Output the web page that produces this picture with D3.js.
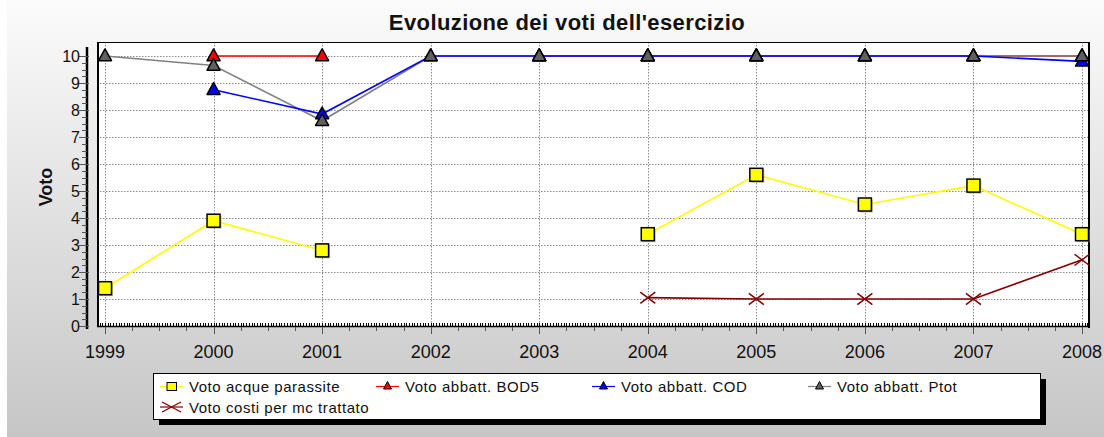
<!DOCTYPE html>
<html>
<head>
<meta charset="utf-8">
<script src="https://cdn.jsdelivr.net/npm/d3@7"></script>
<style>
  html, body { margin: 0; padding: 0; background: #ffffff; }
  svg { display: block; font-family: "Liberation Sans", Arial, sans-serif; }
</style>
</head>
<body>
<svg id="chart" width="1104" height="437"></svg>
<script>
// Years on the horizontal axis
const years = [1999, 2000, 2001, 2002, 2003, 2004, 2005, 2006, 2007, 2008];

// Scores per year (null = no value for that year)
const acqueParassite = [1.4, 3.9, 2.8, null, null, 3.4, 5.6, 4.5, 5.2, 3.4];
const abbattBOD5     = [null, 10, 10, null, 10, 10, 10, 10, 10, 10];
const abbattCOD      = [null, 8.75, 7.85, 10, 10, 10, 10, 10, 10, 9.8];
const abbattPtot     = [10, 9.65, 7.6, 10, 10, 10, 10, 10, 10, 10];
const costiMc        = [null, null, null, null, null, 1.05, 1.0, 1.0, 1.0, 2.45];

const yTicks = [0, 1, 2, 3, 4, 5, 6, 7, 8, 9, 10];

const titleText = "Evoluzione dei voti dell'esercizio";
const yLabel = "Voto";

const series = [
  { name: "Voto acque parassite",      values: acqueParassite, color: "#ffff00", marker: "square",   fill: "#ffff00" },
  { name: "Voto abbatt. BOD5",         values: abbattBOD5,     color: "#ff0000", marker: "triangle", fill: "#ff0000" },
  { name: "Voto abbatt. COD",          values: abbattCOD,      color: "#0000ff", marker: "triangle", fill: "#0000ff" },
  { name: "Voto abbatt. Ptot",         values: abbattPtot,     color: "#808080", marker: "triangle", fill: "#606060" },
  { name: "Voto costi per mc trattato", values: costiMc,       color: "#800000", marker: "cross",    fill: "none" }
];

const svg = d3.select("#chart");
const W = 1104, H = 437;

// Background panel with vertical gradient
const defs = svg.append("defs");
const grad = defs.append("linearGradient").attr("id", "bg").attr("x1", 0).attr("y1", 0).attr("x2", 0).attr("y2", 1);
grad.append("stop").attr("offset", "0%").attr("stop-color", "#fbfbfb");
grad.append("stop").attr("offset", "100%").attr("stop-color", "#c6c6c6");
svg.append("rect").attr("x", 7).attr("y", 0).attr("width", W - 7).attr("height", H).attr("fill", "url(#bg)");

// Plot frame
const plot = { left: 97, right: 1089, top: 42, bottom: 327 };

const x = d3.scaleLinear().domain([1999, 2008]).range([105, 1082]);
const y = d3.scaleLinear().domain([0, 10]).range([326, 56]);

svg.append("rect")
  .attr("x", plot.left).attr("y", plot.top)
  .attr("width", plot.right - plot.left).attr("height", plot.bottom - plot.top)
  .attr("fill", "#ffffff");

// Dotted grid
const grid = svg.append("g").attr("stroke", "#8a8a8a").attr("stroke-width", 1).attr("stroke-dasharray", "1.5,1.5");
grid.selectAll("line.h").data(yTicks.filter(d => d > 0)).join("line")
  .attr("x1", plot.left).attr("x2", plot.right)
  .attr("y1", d => Math.round(y(d)) + 0.5).attr("y2", d => Math.round(y(d)) + 0.5);
grid.selectAll("line.v").data(years).join("line")
  .attr("y1", plot.top).attr("y2", plot.bottom)
  .attr("x1", d => Math.round(x(d)) + 0.5).attr("x2", d => Math.round(x(d)) + 0.5);

// Frame borders
svg.append("line").attr("x1", plot.left).attr("x2", plot.right).attr("y1", plot.top + 0.5).attr("y2", plot.top + 0.5).attr("stroke", "#000").attr("stroke-width", 1);
svg.append("line").attr("x1", plot.left + 1).attr("x2", plot.left + 1).attr("y1", plot.top).attr("y2", plot.bottom).attr("stroke", "#000").attr("stroke-width", 2);
svg.append("line").attr("x1", plot.right).attr("x2", plot.right).attr("y1", plot.top).attr("y2", plot.bottom + 1).attr("stroke", "#000").attr("stroke-width", 2);

// Bottom axis: dense minor ticks, quarter ticks and year ticks
const xAxisY = 327;
const xLo = x.invert(plot.left), xHi = x.invert(plot.right);
const minorX = d3.range(Math.ceil(xLo * 40), Math.floor(xHi * 40) + 1).map(k => k / 40);
const quarterX = d3.range(Math.ceil(xLo * 4), Math.floor(xHi * 4) + 1).map(k => k / 4).filter(v => v % 1 !== 0);
const xa = svg.append("g").attr("stroke", "#000");
xa.selectAll("line.minor").data(minorX).join("line")
  .attr("x1", d => Math.round(x(d)) + 0.5).attr("x2", d => Math.round(x(d)) + 0.5)
  .attr("y1", xAxisY - 4).attr("y2", xAxisY).attr("stroke-width", 1);
xa.append("line").attr("x1", plot.left).attr("x2", plot.right + 1).attr("y1", xAxisY - 0.5).attr("y2", xAxisY - 0.5).attr("stroke-width", 1.5);
xa.selectAll("line.q").data(quarterX).join("line")
  .attr("x1", d => Math.round(x(d)) + 0.5).attr("x2", d => Math.round(x(d)) + 0.5)
  .attr("y1", xAxisY).attr("y2", xAxisY + 4).attr("stroke", "#555").attr("stroke-width", 1);
xa.selectAll("line.major").data(years).join("line")
  .attr("x1", d => Math.round(x(d)) + 0.5).attr("x2", d => Math.round(x(d)) + 0.5)
  .attr("y1", xAxisY).attr("y2", xAxisY + 7).attr("stroke", "#555").attr("stroke-width", 1);

svg.append("g").selectAll("text").data(years).join("text")
  .attr("x", d => x(d)).attr("y", 358)
  .attr("text-anchor", "middle")
  .attr("font-size", "18px").attr("fill", "#111")
  .text(d => d);

// Left axis, detached from the frame
const yAxisX = 87;
const ya = svg.append("g");
ya.append("line").attr("x1", yAxisX).attr("x2", yAxisX).attr("y1", 47).attr("y2", 329).attr("stroke", "#000").attr("stroke-width", 2.5);
const quarterY = d3.range(0, 40).map(k => k / 4).filter(v => v % 1 !== 0);
ya.selectAll("line.q").data(quarterY).join("line")
  .attr("x1", yAxisX - 5).attr("x2", yAxisX)
  .attr("y1", d => Math.round(y(d)) + 0.5).attr("y2", d => Math.round(y(d)) + 0.5)
  .attr("stroke", "#555").attr("stroke-width", 1);
ya.selectAll("line.major").data(yTicks).join("line")
  .attr("x1", yAxisX - 8).attr("x2", yAxisX + 2)
  .attr("y1", d => Math.round(y(d)) + 0.5).attr("y2", d => Math.round(y(d)) + 0.5)
  .attr("stroke", "#555").attr("stroke-width", 1);
ya.selectAll("text").data(yTicks).join("text")
  .attr("x", yAxisX - 7).attr("y", d => y(d) + 5.5)
  .attr("text-anchor", "end")
  .attr("font-size", "16px").attr("fill", "#111")
  .text(d => d);

// Axis title
svg.append("text")
  .attr("transform", "translate(52,187) rotate(-90)")
  .attr("text-anchor", "middle")
  .attr("font-size", "18px").attr("font-weight", "bold").attr("fill", "#111")
  .text(yLabel);

// Chart title
svg.append("text")
  .attr("x", 567).attr("y", 30)
  .attr("text-anchor", "middle")
  .attr("font-size", "22px").attr("font-weight", "bold").attr("fill", "#111")
  .attr("letter-spacing", "0.4px")
  .text(titleText);

// Marker shapes
function drawMarker(g, type, cx, cy, s, fill, stroke, shadow) {
  if (type === "square") {
    if (shadow) g.append("rect").attr("x", cx - s / 2 + 1.5).attr("y", cy - s / 2 + 1.5).attr("width", s).attr("height", s).attr("fill", "#9a9a9a").attr("opacity", 0.6);
    g.append("rect").attr("x", cx - s / 2).attr("y", cy - s / 2).attr("width", s).attr("height", s)
      .attr("fill", fill).attr("stroke", "#000").attr("stroke-width", 1.5);
  } else if (type === "triangle") {
    const h = s * 0.9;
    const pts = [[cx, cy - h * 0.6], [cx + s / 2, cy + h * 0.4], [cx - s / 2, cy + h * 0.4]];
    g.append("path").attr("d", "M" + pts.map(p => p.join(",")).join("L") + "Z")
      .attr("fill", fill).attr("stroke", "#000").attr("stroke-width", 1.5).attr("stroke-linejoin", "round");
  } else if (type === "cross") {
    const r = s / 2;
    g.append("path").attr("d", `M${cx - r},${cy - r * 0.75}L${cx + r},${cy + r * 0.75}M${cx - r},${cy + r * 0.75}L${cx + r},${cy - r * 0.75}`)
      .attr("stroke", stroke).attr("stroke-width", 1.5).attr("fill", "none");
  }
}

// Series lines (gaps where values are missing)
const lineGen = d3.line()
  .defined(d => d.v !== null)
  .x(d => x(d.year)).y(d => y(d.v));

const lineOrder = [0, 1, 3, 2, 4];
const lines = svg.append("g");
lineOrder.forEach(i => {
  const s = series[i];
  const pts = years.map((yr, k) => ({ year: yr, v: s.values[k] }));
  lines.append("path").attr("d", lineGen(pts))
    .attr("fill", "none").attr("stroke", s.color).attr("stroke-width", 1.6);
});

// Series markers
const markers = svg.append("g");
series.forEach(s => {
  years.forEach((yr, k) => {
    const v = s.values[k];
    if (v === null) return;
    const size = s.marker === "square" ? 13 : (s.marker === "triangle" ? 13 : 15);
    drawMarker(markers, s.marker, x(yr), y(v), size, s.fill, s.color, true);
  });
});

// Legend box with drop shadow
const lg = { x: 153, y: 373, w: 887, h: 46 };
svg.append("rect").attr("x", lg.x + 6).attr("y", lg.y + 6).attr("width", lg.w).attr("height", lg.h).attr("fill", "#000");
svg.append("rect").attr("x", lg.x + 0.5).attr("y", lg.y + 0.5).attr("width", lg.w).attr("height", lg.h).attr("fill", "#fff").attr("stroke", "#000").attr("stroke-width", 1);

const legend = svg.append("g");
series.forEach((s, i) => {
  const col = i % 4, row = Math.floor(i / 4);
  const sx = 160 + col * 216, cy = 386.5 + row * 20.5;
  legend.append("line").attr("x1", sx).attr("x2", sx + 23).attr("y1", cy).attr("y2", cy)
    .attr("stroke", s.color).attr("stroke-width", 1.2);
  if (s.marker === "square") {
    legend.append("rect").attr("x", sx + 7).attr("y", cy - 4).attr("width", 9.5).attr("height", 8)
      .attr("fill", s.fill).attr("stroke", "#000").attr("stroke-width", 1);
  } else if (s.marker === "triangle") {
    legend.append("path").attr("d", `M${sx + 11.5},${cy - 5}L${sx + 15.5},${cy + 2.5}L${sx + 7.5},${cy + 2.5}Z`)
      .attr("fill", s.fill).attr("stroke", "#000").attr("stroke-width", 1);
  } else {
    legend.append("path").attr("d", `M${sx + 2},${cy - 5}L${sx + 21},${cy + 5}M${sx + 2},${cy + 5}L${sx + 21},${cy - 5}`)
      .attr("stroke", s.color).attr("stroke-width", 1.3);
  }
  legend.append("text").attr("x", sx + 29).attr("y", cy + 5.5)
    .attr("font-size", "15px").attr("letter-spacing", "0.55px").attr("fill", "#111")
    .text(s.name);
});
</script>
</body>
</html>
